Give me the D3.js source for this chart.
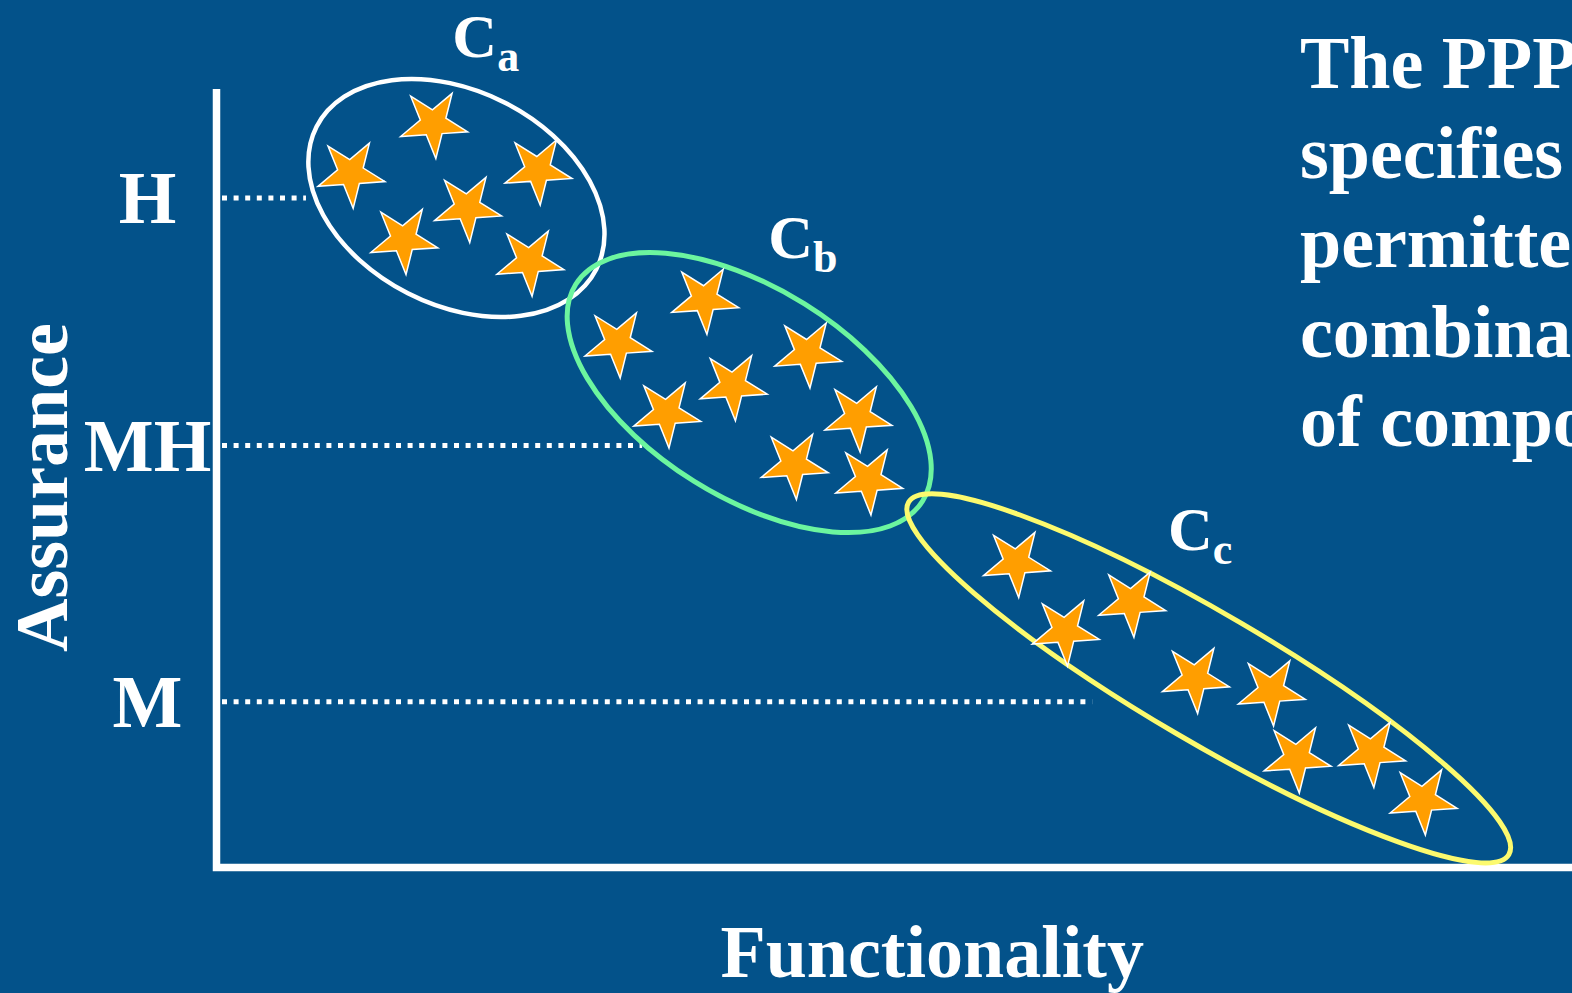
<!DOCTYPE html>
<html>
<head>
<meta charset="utf-8">
<script src="https://cdn.jsdelivr.net/npm/d3@7"></script>
<style>
html, body { margin: 0; padding: 0; background: #03528a; overflow: hidden; }
svg { display: block; }
text { font-family: "Liberation Serif", "Times New Roman", serif; font-weight: bold; fill: #ffffff; }
</style>
</head>
<body>
<svg class="chart" width="1572" height="993"></svg>
<script>

/* assurance levels (y) and how far the dotted guide reaches (x) */
var levels = ["M", "MH", "H"];
var levelValues = [21.3, 54.2, 86.0];
var levelReach = [64.6, 31.4, 6.6];

/* components, [functionality, assurance] */
var starsA = [[16.0, 95.6], [9.9, 89.2], [23.7, 89.6], [18.5, 84.8], [13.8, 80.7], [23.1, 77.9]];
var starsB = [[36.0, 73.0], [29.6, 67.4], [43.6, 66.1], [38.1, 61.9], [33.2, 58.4], [47.3, 57.9], [42.6, 51.8], [48.1, 49.8]];
var starsC = [[59.0, 39.2], [62.6, 30.4], [67.5, 34.1], [72.2, 24.3], [77.8, 22.7], [79.7, 14.1], [85.2, 14.8], [89.0, 8.7]];

/* configurations */
var clusterNames = ["a", "b", "c"];
var clusterCentres = [[17.7, 86.0], [39.3, 61.0], [73.2, 24.3]];
var clusterLabelAt = [[17.4, 104.1], [40.7, 78.3], [70.2, 40.8]];

var textLines = ["The PPP", "specifies the", "permitted", "combinations", "of components"];

var ringRadii = [[157, 107], [204.5, 104.5], [348, 64]];
var ringAngle = [27, 32, 30.4];
var ringColour = ["#ffffff", "#6cf59f", "#fcfa6e"];
var ringWidth = [4.5, 5, 5];

var svg = d3.select("svg.chart");

var x = d3.scaleLinear().domain([0, 100]).range([216.5, 1572]);
var y = d3.scaleLinear().domain([0, 100]).range([867.5, 89]);

svg.append("rect")
    .attr("width", 1572)
    .attr("height", 993)
    .attr("fill", "#03528a");

/* dotted guides */
svg.selectAll("line.guide")
    .data(levelValues)
    .enter()
    .append("line")
    .attr("class", "guide")
    .attr("x1", x(0) + 5.5)
    .attr("x2", function(d, i){ return x(levelReach[i]); })
    .attr("y1", function(d){ return y(d); })
    .attr("y2", function(d){ return y(d); })
    .attr("stroke", "#ffffff")
    .attr("stroke-width", 5)
    .attr("stroke-dasharray", "5,6.6");

/* level labels */
svg.selectAll("text.level")
    .data(levels)
    .enter()
    .append("text")
    .attr("class", "level")
    .attr("x", 147.5)
    .attr("y", function(d, i){ return y(levelValues[i]) + 25; })
    .attr("text-anchor", "middle")
    .style("font-size", "74px")
    .text(function(d){ return d; });

/* axes */
svg.append("path")
    .attr("d", "M" + x(0) + "," + y(100) + "V" + y(0) + "H" + x(100))
    .attr("fill", "none")
    .attr("stroke", "#ffffff")
    .attr("stroke-width", 7.5)
    .attr("stroke-linejoin", "miter");

svg.append("text")
    .attr("transform", "translate(67," + y(48.8) + ") rotate(-90)")
    .attr("text-anchor", "middle")
    .style("font-size", "74px")
    .text("Assurance");

svg.append("text")
    .attr("x", x(52.8))
    .attr("y", 977)
    .attr("text-anchor", "middle")
    .style("font-size", "74px")
    .text("Functionality");

/* rings round each configuration */
svg.selectAll("ellipse.ring")
    .data(clusterCentres)
    .enter()
    .append("ellipse")
    .attr("class", "ring")
    .attr("rx", function(d, i){ return ringRadii[i][0]; })
    .attr("ry", function(d, i){ return ringRadii[i][1]; })
    .attr("transform", function(d, i){
        return "translate(" + x(d[0]) + "," + y(d[1]) + ") rotate(" + ringAngle[i] + ")";
    })
    .attr("fill", "none")
    .attr("stroke", function(d, i){ return ringColour[i]; })
    .attr("stroke-width", function(d, i){ return ringWidth[i]; });

/* stars */
var star = d3.symbol().type(d3.symbolStar).size(1400);
var allStars = starsA.concat(starsB, starsC);

svg.selectAll("path.star")
    .data(allStars)
    .enter()
    .append("path")
    .attr("class", "star")
    .attr("d", star)
    .attr("transform", function(d){
        return "translate(" + x(d[0]) + "," + y(d[1]) + ") rotate(32)";
    })
    .attr("fill", "#ff9e00")
    .attr("stroke", "#ffffff")
    .attr("stroke-width", 1.5)
    .attr("stroke-linejoin", "miter");

/* C_a, C_b, C_c */
var lab = svg.selectAll("text.clabel")
    .data(clusterNames)
    .enter()
    .append("text")
    .attr("class", "clabel")
    .attr("x", function(d, i){ return x(clusterLabelAt[i][0]); })
    .attr("y", function(d, i){ return y(clusterLabelAt[i][1]); })
    .style("font-size", "62px");
lab.append("tspan").text("C");
lab.append("tspan")
    .attr("dy", 14)
    .style("font-size", "44px")
    .text(function(d){ return d; });

/* side text, runs off the right edge like the slide */
svg.selectAll("text.side")
    .data(textLines)
    .enter()
    .append("text")
    .attr("class", "side")
    .attr("x", 1300)
    .attr("y", function(d, i){ return 88 + i * 89.5; })
    .style("font-size", "74px")
    .text(function(d){ return d; });

</script>
</body>
</html>
